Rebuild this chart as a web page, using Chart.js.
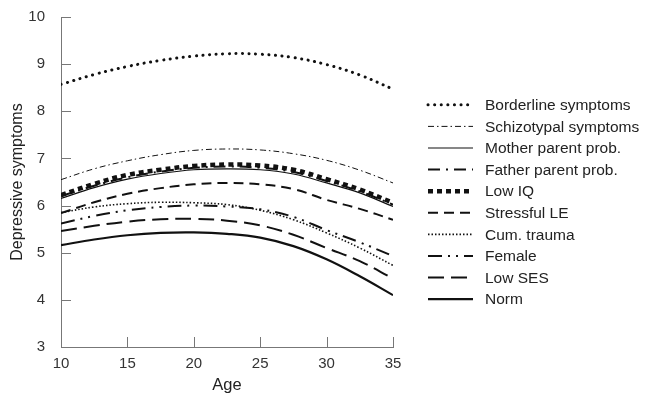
<!DOCTYPE html>
<html>
<head>
<meta charset="utf-8">
<script src="https://cdn.jsdelivr.net/npm/chart.js@4.4.0/dist/chart.umd.min.js"></script>
<style>
  html, body { margin: 0; padding: 0; background: #fff; }
  #wrap { width: 645px; height: 403px; }
</style>
</head>
<body>
<div id="wrap"><canvas id="chart"></canvas></div>
<script>
// ages along the x axis
const ages = [10, 12.5, 15, 17.5, 20, 22.5, 25, 27.5, 30, 32.5, 35];

// values
const borderline = [8.57, 8.78, 8.95, 9.08, 9.17, 9.22, 9.21, 9.14, 8.99, 8.77, 8.47];
const schizotypal = [6.55, 6.78, 6.95, 7.08, 7.17, 7.2, 7.18, 7.1, 6.96, 6.75, 6.48];
const motherProb = [6.15, 6.38, 6.56, 6.68, 6.76, 6.78, 6.76, 6.67, 6.48, 6.27, 5.98];
const fatherProb = [6.2, 6.42, 6.6, 6.72, 6.8, 6.83, 6.8, 6.71, 6.52, 6.3, 6.02];
const lowIQ = [6.22, 6.46, 6.65, 6.76, 6.84, 6.87, 6.85, 6.76, 6.56, 6.34, 6.06];
const stressfulLE = [5.84, 6.07, 6.25, 6.37, 6.45, 6.48, 6.45, 6.35, 6.12, 5.93, 5.7];
const cumTrauma = [5.85, 5.97, 6.04, 6.07, 6.06, 6.02, 5.9, 5.7, 5.42, 5.1, 4.73];
const female = [5.62, 5.78, 5.9, 5.97, 6.0, 5.98, 5.92, 5.76, 5.48, 5.22, 4.93];
const lowSES = [5.46, 5.57, 5.66, 5.71, 5.72, 5.68, 5.58, 5.38, 5.1, 4.82, 4.45];
const norm = [5.16, 5.28, 5.37, 5.42, 5.43, 5.4, 5.32, 5.14, 4.86, 4.5, 4.1];

const xTicks = [10, 15, 20, 25, 30, 35];
const yTicks = [3, 4, 5, 6, 7, 8, 9, 10];

const FONT = "Liberation Sans, Arial, sans-serif";
const toPoints = (vals) => vals.map((v, i) => ({ x: ages[i], y: v }));

const series = [
  { label: "Borderline symptoms", data: borderline, width: 3, dash: [0.1, 6.5], cap: "round" },
  { label: "Schizotypal symptoms", data: schizotypal, width: 1, dash: [6, 3, 1.5, 3] },
  { label: "Mother parent prob.", data: motherProb, width: 1.2, dash: [] },
  { label: "Father parent prob.", data: fatherProb, width: 2, dash: [12, 6, 2, 6] },
  { label: "Low IQ", data: lowIQ, width: 4.5, dash: [5, 4] },
  { label: "Stressful LE", data: stressfulLE, width: 2, dash: [10, 6] },
  { label: "Cum. trauma", data: cumTrauma, width: 1.6, dash: [1.5, 2] },
  { label: "Female", data: female, width: 2, dash: [14, 6, 2, 6, 2, 6] },
  { label: "Low SES", data: lowSES, width: 2, dash: [16, 7] },
  { label: "Norm", data: norm, width: 2.2, dash: [] },
];

// small inward tick marks on both axes
const innerTicks = {
  id: "innerTicks",
  afterDraw(chart) {
    const ctx = chart.ctx;
    const x = chart.scales.x;
    const y = chart.scales.y;
    ctx.save();
    ctx.strokeStyle = "#777";
    ctx.lineWidth = 1;
    ctx.beginPath();
    yTicks.forEach((t) => {
      const py = Math.round(y.getPixelForValue(t)) + 0.5;
      ctx.moveTo(x.left, py);
      ctx.lineTo(x.left + 10, py);
    });
    xTicks.forEach((t) => {
      const px = Math.round(x.getPixelForValue(t)) + 0.5;
      ctx.moveTo(px, y.bottom);
      ctx.lineTo(px, y.bottom - 10);
    });
    ctx.stroke();
    ctx.restore();
  },
};

// legend drawn to the right of the plot, using each dataset's line style
const sideLegend = {
  id: "sideLegend",
  afterDraw(chart) {
    const ctx = chart.ctx;
    const area = chart.chartArea;
    const rowH = 21.6;
    const sets = chart.data.datasets;
    const x0 = area.right + 35;
    const y0 = (area.top + area.bottom) / 2 + 20 - rowH * (sets.length - 1) / 2;
    ctx.save();
    sets.forEach((ds, i) => {
      const yy = y0 + i * rowH;
      ctx.strokeStyle = ds.borderColor;
      ctx.lineWidth = ds.borderWidth;
      ctx.lineCap = ds.borderCapStyle;
      ctx.setLineDash(ds.borderDash);
      ctx.beginPath();
      ctx.moveTo(x0, yy);
      ctx.lineTo(x0 + 45, yy);
      ctx.stroke();
      ctx.setLineDash([]);
      ctx.fillStyle = "#222";
      ctx.font = "15.5px " + FONT;
      ctx.textBaseline = "middle";
      ctx.fillText(ds.label, x0 + 57, yy + 1);
    });
    ctx.restore();
  },
};

new Chart(document.getElementById("chart"), {
  type: "line",
  data: {
    datasets: series.map((s) => ({
      label: s.label,
      data: toPoints(s.data),
      borderColor: "#111",
      backgroundColor: "#111",
      borderWidth: s.width,
      borderDash: s.dash,
      borderCapStyle: s.cap || "butt",
      pointRadius: 0,
      tension: 0.4,
      fill: false,
    })),
  },
  options: {
    responsive: true,
    maintainAspectRatio: false,
    animation: false,
    layout: { padding: { top: 15, right: 252, left: 0, bottom: 0 } },
    plugins: {
      tooltip: { enabled: false },
      legend: { display: false },
    },
    scales: {
      x: {
        type: "linear",
        min: 10,
        max: 35,
        afterBuildTicks: (axis) => { axis.ticks = xTicks.map((v) => ({ value: v })); },
        afterFit: (axis) => { axis.height = 56; },
        grid: { display: false },
        border: { color: "#777" },
        ticks: { color: "#333", padding: 0, font: { family: FONT, size: 15 } },
        title: { display: true, text: "Age", color: "#222", padding: { top: 0, bottom: 8 }, font: { family: FONT, size: 16.5 } },
      },
      y: {
        min: 3,
        max: 10,
        afterBuildTicks: (axis) => { axis.ticks = yTicks.map((v) => ({ value: v })); },
        afterFit: (axis) => { axis.width = 61; },
        grid: { display: false },
        border: { color: "#777" },
        ticks: { color: "#333", padding: 8, font: { family: FONT, size: 15 } },
        title: { display: true, text: "Depressive symptoms", color: "#222", padding: { top: 8, bottom: 0 }, font: { family: FONT, size: 16 } },
      },
    },
  },
  plugins: [innerTicks, sideLegend],
});
</script>
</body>
</html>
